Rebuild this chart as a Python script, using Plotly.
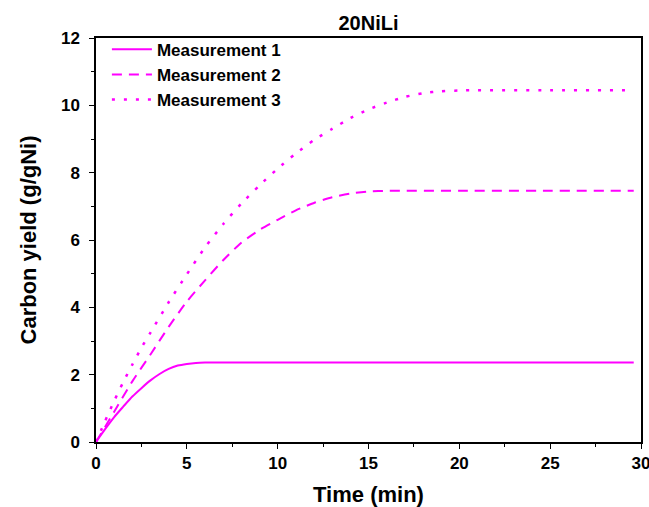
import plotly.graph_objects as go

# Data
t1 = [0, 0.5, 1, 1.5, 2, 2.5, 3, 3.5, 4, 4.5, 5, 5.5, 6, 7, 10, 15, 20, 25, 29.6]
y1 = [0, 0.38, 0.74, 1.05, 1.35, 1.6, 1.83, 2.02, 2.17, 2.27, 2.32, 2.35, 2.36, 2.36, 2.36, 2.36, 2.36, 2.36, 2.36]

t2 = [0, 1, 2, 3, 4, 5, 6, 7, 8, 9, 10, 11, 12, 13, 14, 15, 16, 20, 25, 29.6]
y2 = [0, 0.9, 1.8, 2.6, 3.42, 4.17, 4.8, 5.4, 5.92, 6.3, 6.6, 6.88, 7.1, 7.27, 7.38, 7.44, 7.46, 7.46, 7.46, 7.46]

t3 = [0, 0.5, 1, 1.5, 2, 2.5, 3, 4, 5, 6, 7, 8, 9, 10, 11, 12, 13, 14, 15, 16, 17, 18, 19, 20, 21, 25, 29.6]
y3 = [0, 0.62, 1.22, 1.78, 2.3, 2.8, 3.25, 4.15, 4.98, 5.78, 6.47, 7.08, 7.62, 8.12, 8.57, 8.97, 9.3,
      9.62, 9.88, 10.08, 10.25, 10.36, 10.42, 10.44, 10.45, 10.45, 10.45]

names = ["Measurement 1", "Measurement 2", "Measurement 3"]
x_ticks = [0, 5, 10, 15, 20, 25, 30]
y_ticks = [0, 2, 4, 6, 8, 10, 12]

FONT = "Arial, 'Liberation Sans', sans-serif"
MAG = "#FF00FF"

fig = go.Figure()
fig.add_trace(go.Scatter(x=t1, y=y1, mode="lines", name=names[0],
                         line=dict(color=MAG, width=2, shape="spline", smoothing=0.6)))
fig.add_trace(go.Scatter(x=t2, y=y2, mode="lines", name=names[1],
                         line=dict(color=MAG, width=2, dash="10px,7px", shape="spline", smoothing=0.6)))
fig.add_trace(go.Scatter(x=t3, y=y3, mode="lines", name=names[2],
                         line=dict(color=MAG, width=2.5, dash="3px,9px", shape="spline", smoothing=0.6)))

axis_common = dict(
    showline=True, linecolor="black", linewidth=1.5, mirror=True,
    ticks="outside", ticklen=5, tickwidth=1.2, tickcolor="black",
    showgrid=False, zeroline=False, automargin=False,
    tickfont=dict(family=FONT, size=17, color="black", weight="bold"),
)

fig.update_xaxes(
    range=[0, 30], tickvals=x_ticks, ticklabeloverflow="allow",
    minor=dict(ticks="outside", ticklen=3, dtick=2.5, tick0=0, tickcolor="black", showgrid=False),
    title=dict(text="Time (min)", font=dict(family=FONT, size=22, color="black", weight="bold"), standoff=18),
    **axis_common,
)
fig.update_yaxes(
    range=[0, 12], tickvals=y_ticks, ticklabelstandoff=6,
    minor=dict(ticks="outside", ticklen=3, dtick=1, tick0=0, tickcolor="black", showgrid=False),
    title=dict(text="Carbon yield (g/gNi)", font=dict(family=FONT, size=22, color="black", weight="bold"), standoff=18),
    **axis_common,
)

fig.update_layout(
    width=649, height=507,
    margin=dict(l=96, r=8, t=38, b=65),
    paper_bgcolor="white", plot_bgcolor="white",
    title=dict(text="20NiLi", x=0.5, xref="paper", xanchor="center",
               y=1 - 23 / 507, yref="container", yanchor="middle",
               font=dict(family=FONT, size=20, color="black", weight="bold")),
    legend=dict(x=0.02, y=1.0155, xanchor="left", yanchor="top",
                bgcolor="rgba(0,0,0,0)", itemwidth=40, tracegroupgap=0,
                font=dict(family=FONT, size=17, color="black", weight="bold")),
    showlegend=True,
)

fig.write_html("out.html")
